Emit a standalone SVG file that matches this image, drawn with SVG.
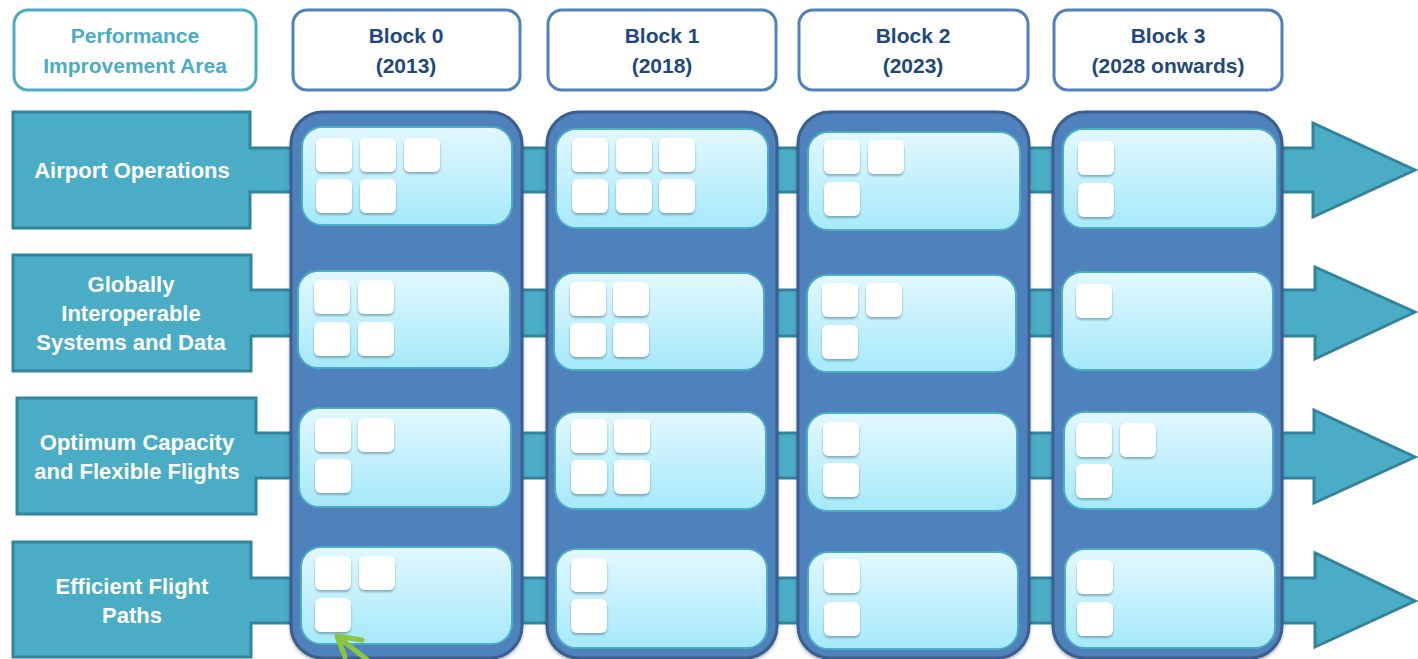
<svg xmlns="http://www.w3.org/2000/svg" width="1418" height="659" viewBox="0 0 1418 659">
<style>
.hdr{fill:#fff;stroke-width:3}
.pia{stroke:#4bacc6}
.blk{stroke:#4f81bd}
.ht{font-family:"Liberation Sans",Arial,sans-serif;font-weight:bold;font-size:21px;text-anchor:middle}
.piat{fill:#4bacc6}
.blkt{fill:#1f497d}
.row{fill:#4bacc6;stroke:#31849b;stroke-width:3;stroke-linejoin:miter}
.lt{font-family:"Liberation Sans",Arial,sans-serif;font-weight:bold;font-size:22px;fill:#fff;text-anchor:middle}
.col{fill:#4f81bd;stroke:#3a5f8f;stroke-width:3}
.card{fill:url(#cg);stroke:#4bacc6;stroke-width:2}
.sq{fill:#fff;filter:url(#sh)}
</style>
<defs>
<linearGradient id="cg" x1="0" y1="0" x2="0" y2="1">
<stop offset="0" stop-color="#e2f8fe"/>
<stop offset="1" stop-color="#a6e9fa"/>
</linearGradient>
<filter id="sh" x="-20%" y="-20%" width="140%" height="150%">
<feDropShadow dx="0" dy="2" stdDeviation="1.3" flood-color="#2a5a70" flood-opacity="0.45"/>
</filter>
<filter id="csh" x="-10%" y="-10%" width="120%" height="125%">
<feDropShadow dx="0" dy="2" stdDeviation="1.5" flood-color="#1a3a5a" flood-opacity="0.35"/>
</filter>
<symbol id="s" overflow="visible"><rect class="sq" x="0" y="0" width="36" height="34" rx="6"/></symbol>
</defs>

<g id="headers">
<g id="hdr-pia"><rect class="hdr pia" x="14" y="10" width="242" height="80" rx="14"/>
<text class="ht piat" x="135" y="43">Performance</text><text class="ht piat" x="135" y="73">Improvement Area</text></g>
<g id="hdr-b0"><rect class="hdr blk" x="293" y="10" width="227" height="80" rx="14"/>
<text class="ht blkt" x="406" y="43">Block 0</text><text class="ht blkt" x="406" y="73">(2013)</text></g>
<g id="hdr-b1"><rect class="hdr blk" x="548" y="10" width="228" height="80" rx="14"/>
<text class="ht blkt" x="662" y="43">Block 1</text><text class="ht blkt" x="662" y="73">(2018)</text></g>
<g id="hdr-b2"><rect class="hdr blk" x="799" y="10" width="229" height="80" rx="14"/>
<text class="ht blkt" x="913" y="43">Block 2</text><text class="ht blkt" x="913" y="73">(2023)</text></g>
<g id="hdr-b3"><rect class="hdr blk" x="1054" y="10" width="228" height="80" rx="14"/>
<text class="ht blkt" x="1168" y="43">Block 3</text><text class="ht blkt" x="1168" y="73">(2028 onwards)</text></g>
</g>

<g id="connectors">
<path class="row" d="M13,112 H250 V148 H1313 V123 L1415,170 L1313,217 V192 H250 V228 H13 Z"/>
<path class="row" d="M13,255 H251 V290 H1315 V267 L1415,312 L1315,359 V336 H251 V371 H13 Z"/>
<path class="row" d="M17,398 H256 V433 H1314 V410 L1415,457 L1314,503 V478 H256 V514 H17 Z"/>
<path class="row" d="M13,542 H251 V578 H1315 V553 L1415,601 L1315,647 V623 H251 V657 H13 Z"/>
</g>

<g id="row-labels">
<g id="pia-airport"><text class="lt" x="132" y="178">Airport Operations</text></g>
<g id="pia-gisd"><text class="lt" x="131" y="292">Globally</text><text class="lt" x="131" y="321">Interoperable</text><text class="lt" x="131" y="350">Systems and Data</text></g>
<g id="pia-ocff"><text class="lt" x="137" y="450">Optimum Capacity</text><text class="lt" x="137" y="479">and Flexible Flights</text></g>
<g id="pia-efp"><text class="lt" x="132" y="594">Efficient Flight</text><text class="lt" x="132" y="623">Paths</text></g>
</g>

<g id="block0">
<rect class="col" x="291" y="112" width="231" height="546" rx="32" filter="url(#csh)"/>
<rect class="card" x="302" y="127" width="210" height="98" rx="20"/>
<rect class="card" x="298" y="271" width="212" height="97" rx="20"/>
<rect class="card" x="299" y="408" width="212" height="99" rx="20"/>
<rect class="card" x="301" y="547" width="211" height="97" rx="20"/>
<use href="#s" x="316" y="138"/><use href="#s" x="360" y="138"/><use href="#s" x="404" y="138"/>
<use href="#s" x="316" y="179"/><use href="#s" x="360" y="179"/>
<use href="#s" x="314" y="280"/><use href="#s" x="358" y="280"/>
<use href="#s" x="314" y="322"/><use href="#s" x="358" y="322"/>
<use href="#s" x="315" y="418"/><use href="#s" x="358" y="418"/>
<use href="#s" x="315" y="459"/>
<use href="#s" x="315" y="556"/><use href="#s" x="359" y="556"/>
<use href="#s" x="315" y="598"/>
</g>

<g id="block1">
<rect class="col" x="547" y="112" width="230" height="546" rx="32" filter="url(#csh)"/>
<rect class="card" x="556" y="129" width="212" height="99" rx="20"/>
<rect class="card" x="554" y="273" width="210" height="97" rx="20"/>
<rect class="card" x="555" y="412" width="211" height="97" rx="20"/>
<rect class="card" x="556" y="549" width="211" height="99" rx="20"/>
<use href="#s" x="572" y="138"/><use href="#s" x="616" y="138"/><use href="#s" x="659" y="138"/>
<use href="#s" x="572" y="179"/><use href="#s" x="616" y="179"/><use href="#s" x="659" y="179"/>
<use href="#s" x="570" y="282"/><use href="#s" x="613" y="282"/>
<use href="#s" x="570" y="323"/><use href="#s" x="613" y="323"/>
<use href="#s" x="571" y="419"/><use href="#s" x="614" y="419"/>
<use href="#s" x="571" y="460"/><use href="#s" x="614" y="460"/>
<use href="#s" x="571" y="558"/>
<use href="#s" x="571" y="599"/>
</g>

<g id="block2">
<rect class="col" x="798" y="112" width="231" height="546" rx="32" filter="url(#csh)"/>
<rect class="card" x="808" y="132" width="212" height="98" rx="20"/>
<rect class="card" x="807" y="275" width="209" height="97" rx="20"/>
<rect class="card" x="807" y="413" width="210" height="98" rx="20"/>
<rect class="card" x="808" y="552" width="210" height="97" rx="20"/>
<use href="#s" x="824" y="140"/><use href="#s" x="868" y="140"/>
<use href="#s" x="824" y="182"/>
<use href="#s" x="822" y="283"/><use href="#s" x="866" y="283"/>
<use href="#s" x="822" y="325"/>
<use href="#s" x="823" y="422"/>
<use href="#s" x="823" y="463"/>
<use href="#s" x="824" y="559"/>
<use href="#s" x="824" y="602"/>
</g>

<g id="block3">
<rect class="col" x="1053" y="112" width="229" height="546" rx="32" filter="url(#csh)"/>
<rect class="card" x="1063" y="129" width="214" height="99" rx="20"/>
<rect class="card" x="1062" y="272" width="211" height="98" rx="20"/>
<rect class="card" x="1064" y="412" width="209" height="97" rx="20"/>
<rect class="card" x="1065" y="549" width="210" height="99" rx="20"/>
<use href="#s" x="1078" y="141"/>
<use href="#s" x="1078" y="183"/>
<use href="#s" x="1076" y="284"/>
<use href="#s" x="1076" y="423"/><use href="#s" x="1120" y="423"/>
<use href="#s" x="1076" y="464"/>
<use href="#s" x="1077" y="560"/>
<use href="#s" x="1077" y="602"/>
</g>

<g id="pointer">
<path d="M370,662 L337,636 M337,636 L362,640 M337,636 L345,657" fill="none" stroke="#8cc63f" stroke-width="5" stroke-linecap="round" stroke-linejoin="round"/>
</g>
</svg>
